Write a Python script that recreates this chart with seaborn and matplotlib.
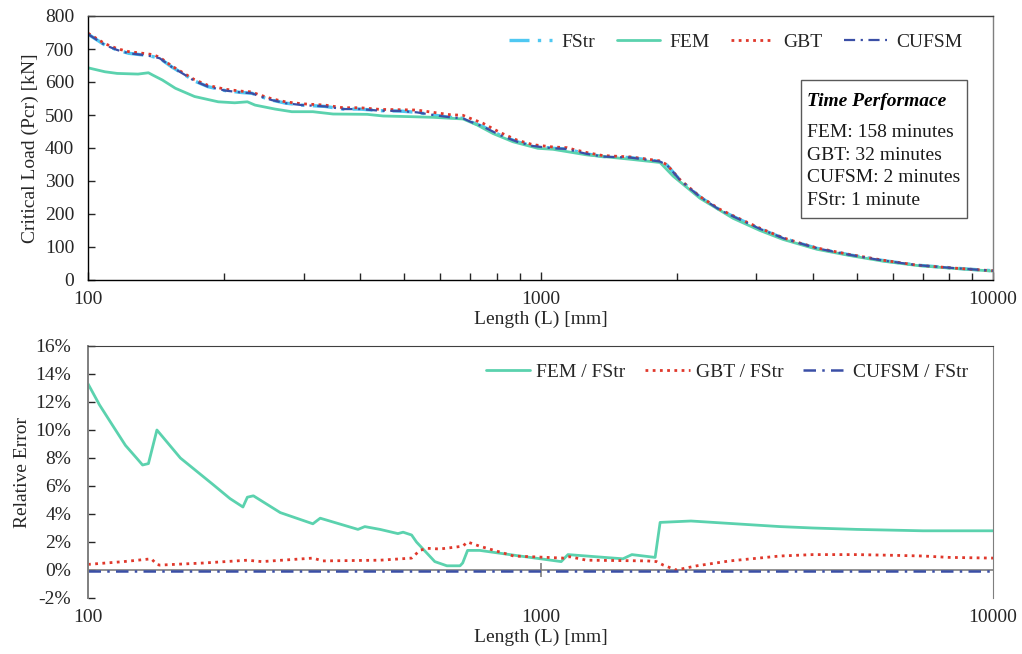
import numpy as np
import pandas as pd
import matplotlib
matplotlib.use("Agg")
import matplotlib.pyplot as plt
import seaborn as sns
from matplotlib.ticker import PercentFormatter, LogLocator, NullFormatter, FixedLocator
from matplotlib.offsetbox import TextArea, VPacker, AnchoredOffsetbox, DrawingArea

# ---------------- data: top chart (critical load, kN) ----------------
L_top = [100, 109, 116, 123, 134, 139, 144, 153, 164, 172, 184, 201, 219, 230, 238, 255,
         273, 297, 334, 366, 399, 442, 489, 533, 579, 631, 674, 699, 746, 814, 887, 962,
         1066, 1145, 1180, 1267, 1374, 1577, 1685, 1837, 1904, 2034, 2250, 2493, 2719,
         3055, 3435, 3745, 4083, 4830, 5715, 6794, 8035, 9500, 10000]
fstr = [745, 712, 697, 687, 681, 677, 672, 646, 621, 603, 586, 574, 568, 566, 558, 545,
        536, 530, 526, 518, 518, 513, 512, 508, 500, 493, 490, 480, 465, 439, 419, 406,
        399, 397, 392, 382, 374, 371, 366, 359, 348, 303, 252, 212, 187,
        155, 127, 111, 96, 76, 59, 45, 37, 30, 28]
gbt = [748, 716, 701, 692, 686, 683, 675, 649, 624, 607, 590, 578, 572, 570, 562, 549,
       540, 534, 530, 522, 522, 517, 516, 515, 508, 501, 499, 490, 475, 447, 424, 410,
       403, 401, 396, 386, 377, 373, 368, 361, 349, 304, 253, 214, 189,
       157, 128, 112, 97, 77, 60, 45, 37, 30, 28]
cufsm = [745, 712, 697, 687, 681, 677, 672, 646, 621, 603, 586, 574, 568, 566, 558, 545,
         536, 530, 526, 518, 518, 513, 512, 508, 500, 493, 490, 480, 465, 439, 419, 406,
         399, 397, 392, 382, 374, 371, 366, 359, 348, 303, 252, 212, 187,
         155, 127, 111, 96, 76, 59, 45, 37, 30, 28]
L_fem = [100, 109, 116, 129, 136, 139, 146, 156, 172, 194, 211, 225, 234, 259, 282, 297,
         314, 348, 414, 449, 515, 579, 674, 724, 785, 869, 987, 1066, 1267, 1577, 1837,
         1963, 2250, 2664, 3055, 3435, 3745, 4083, 4830, 5715, 6794, 8035, 9500, 10000]
fem = [643, 631, 626, 624, 628, 621, 606, 581, 556, 540, 537, 540, 530, 518, 510, 510,
       510, 503, 502, 497, 495, 493, 488, 470, 444, 419, 399, 396, 379, 366, 356,
       315, 248, 187, 150, 123, 108, 93, 74, 57, 44, 36, 29, 27]

# ---------------- data: bottom chart (relative error, %) ----------------
L_fem_err = [100, 106, 114, 121, 128, 132, 136, 142, 160, 189, 206, 220, 225, 232, 266,
             314, 326, 395, 409, 442, 484, 497, 519, 532, 584, 621, 664, 673, 690, 734,
             900, 1111, 1150, 1521, 1592, 1792, 1838, 2150, 3385, 4000, 5000, 7000, 10000]
fem_err = [13.3, 11.8, 10.2, 8.9, 8.0, 7.5, 7.6, 10.0, 8.0, 6.1, 5.1, 4.5, 5.2, 5.3, 4.1,
           3.3, 3.7, 2.9, 3.1, 2.9, 2.6, 2.7, 2.5, 2.0, 0.6, 0.3, 0.3, 0.5, 1.4, 1.4,
           1.0, 0.6, 1.1, 0.8, 1.1, 0.9, 3.4, 3.5, 3.1, 3.0, 2.9, 2.8, 2.8]
L_gbt_err = [100, 120, 138, 142, 144, 180, 225, 242, 314, 330, 442, 519, 541, 562, 599,
             673, 690, 734, 872, 1124, 1160, 1264, 1720, 1805, 1868, 1995, 2215, 2621,
             3385, 4000, 5000, 6000, 7000, 8000, 10000]
gbt_err = [0.4, 0.6, 0.8, 0.4, 0.35, 0.5, 0.7, 0.6, 0.85, 0.65, 0.7, 0.85, 1.4, 1.55, 1.5,
           1.7, 2.0, 1.7, 1.0, 0.85, 0.95, 0.7, 0.65, 0.6, 0.35, 0.0, 0.3, 0.65,
           1.0, 1.1, 1.1, 1.05, 1.0, 0.9, 0.85]
L_cufsm_err = [100, 1000, 10000]
cufsm_err = [-0.05, -0.05, -0.05]

top_names = ["FStr", "FEM", "GBT", "CUFSM"]
bot_names = ["FEM / FStr", "GBT / FStr", "CUFSM / FStr"]
time_title = "Time Performace"
time_lines = ["FEM: 158 minutes", "GBT: 32 minutes", "CUFSM: 2 minutes", "FStr: 1 minute"]

# ---------------- style ----------------
sns.set_style("white")
plt.rcParams["font.family"] = ["Liberation Serif", "DejaVu Serif"]
plt.rcParams["axes.unicode_minus"] = False
FS = 14
c_fstr = "#4FC8F2"
c_fem = "#5BD2AE"
c_gbt = "#E0382B"
c_cufsm = "#3A4FA6"

fig = plt.figure(figsize=(10.22, 6.54), dpi=100)
ax1 = fig.add_axes([88/1022, 1-280/654, 905/1022, 264/654])
ax2 = fig.add_axes([88/1022, 1-598/654, 905/1022, 252/654])

# ---------------- top chart ----------------
sns.lineplot(x=L_top, y=fstr, ax=ax1, color=c_fstr, lw=2.4, label=top_names[0],
             linestyle=(0, (6, 2.5, 1, 2.5)))
sns.lineplot(x=L_fem, y=fem, ax=ax1, color=c_fem, lw=2.0, label=top_names[1])
sns.lineplot(x=L_top, y=gbt, ax=ax1, color=c_gbt, lw=2.0, label=top_names[2],
             linestyle=(0, (1, 1.6)))
sns.lineplot(x=L_top, y=cufsm, ax=ax1, color=c_cufsm, lw=1.6, label=top_names[3],
             linestyle=(0, (5, 2.5, 1, 2.5)))

ax1.set_xscale("log")
ax1.set_xlim(100, 10000)
ax1.set_ylim(0, 800)
ax1.set_yticks(np.arange(0, 801, 100))
ax1.xaxis.set_major_locator(FixedLocator([100, 1000, 10000]))
ax1.set_xticklabels(["100", "1000", "10000"])
ax1.xaxis.set_minor_locator(LogLocator(base=10, subs=np.arange(2, 10)))
ax1.xaxis.set_minor_formatter(NullFormatter())
ax1.tick_params(axis="y", direction="in", length=5, width=1, labelsize=FS, pad=10, left=True)
ax1.tick_params(axis="x", which="major", direction="in", length=6, width=1, labelsize=FS, pad=8, bottom=True)
ax1.tick_params(axis="x", which="minor", direction="in", length=5, width=1, bottom=True)
ax1.set_xlabel("Length (L) [mm]", fontsize=FS, labelpad=2)
ax1.set_ylabel("Critical Load (Pcr) [kN]", fontsize=FS, labelpad=4)
for s in ax1.spines.values():
    s.set_color("#000000")
    s.set_linewidth(1.0)
ax1.spines["right"].set_color("#7f7f7f")
ax1.spines["top"].set_color("#404040")

ax1.legend(loc="upper right", ncol=4, frameon=False, fontsize=FS,
           handlelength=2.2, columnspacing=1.1, handletextpad=0.5,
           bbox_to_anchor=(0.986, 1.0))

title_area = TextArea(time_title, textprops=dict(fontsize=FS, fontweight="bold",
                                                 fontstyle="italic", color="black"))
line_areas = [TextArea(t, textprops=dict(fontsize=FS, color="#1a1a1a")) for t in time_lines]
body = VPacker(children=line_areas, align="left", pad=0, sep=4)
inner = VPacker(children=[title_area, body], align="left", pad=0, sep=10)
pack = VPacker(children=[DrawingArea(1, 5), inner, DrawingArea(1, 2)],
               align="left", pad=0, sep=0)
abox = AnchoredOffsetbox(loc="upper right", child=pack, pad=0.45, frameon=True,
                         bbox_to_anchor=(0.971, 0.758), bbox_transform=ax1.transAxes,
                         borderpad=0)
abox.patch.set_edgecolor("#595959")
abox.patch.set_linewidth(1.0)
ax1.add_artist(abox)

# ---------------- bottom chart ----------------
sns.lineplot(x=L_fem_err, y=fem_err, ax=ax2, color=c_fem, lw=2.0, label=bot_names[0])
sns.lineplot(x=L_gbt_err, y=gbt_err, ax=ax2, color=c_gbt, lw=2.0, label=bot_names[1],
             linestyle=(0, (1, 1.6)))
sns.lineplot(x=L_cufsm_err, y=cufsm_err, ax=ax2, color=c_cufsm, lw=1.8, label=bot_names[2],
             linestyle=(0, (5, 2.5, 1, 2.5)))

ax2.set_xscale("log")
ax2.set_xlim(100, 10000)
ax2.set_ylim(-2, 16)
ax2.set_yticks(np.arange(-2, 16.1, 2))
ax2.yaxis.set_major_formatter(PercentFormatter(xmax=100, decimals=0))
ax2.xaxis.set_major_locator(FixedLocator([100, 1000, 10000]))
ax2.set_xticklabels(["100", "1000", "10000"])
ax2.xaxis.set_minor_locator(FixedLocator([]))
ax2.tick_params(axis="y", direction="in", length=5, width=1, labelsize=FS, pad=12, left=True)
ax2.tick_params(axis="x", which="major", length=0, labelsize=FS, pad=8)
ax2.set_xlabel("Length (L) [mm]", fontsize=FS, labelpad=2)
ax2.set_ylabel("Relative Error", fontsize=FS, labelpad=3)
ax2.spines["bottom"].set_visible(False)
ax2.spines["left"].set_color("#7f7f7f")
ax2.spines["left"].set_linewidth(1.4)
ax2.spines["top"].set_color("#404040")
ax2.spines["right"].set_color("#7f7f7f")
ax2.axhline(0, color="#7f7f7f", lw=1.2, zorder=1)
sec = ax2.secondary_xaxis(2/18)
sec.spines["bottom"].set_visible(False)
sec.xaxis.set_major_locator(FixedLocator([1000]))
sec.xaxis.set_minor_locator(FixedLocator([]))
sec.tick_params(axis="x", direction="inout", length=10, width=1.2, color="#7f7f7f",
                labelbottom=False)

ax2.legend(loc="upper right", ncol=3, frameon=False, fontsize=FS,
           handlelength=2.3, columnspacing=1.0, handletextpad=0.3,
           bbox_to_anchor=(0.992, 1.0))

fig.savefig("out.png", dpi=100)
